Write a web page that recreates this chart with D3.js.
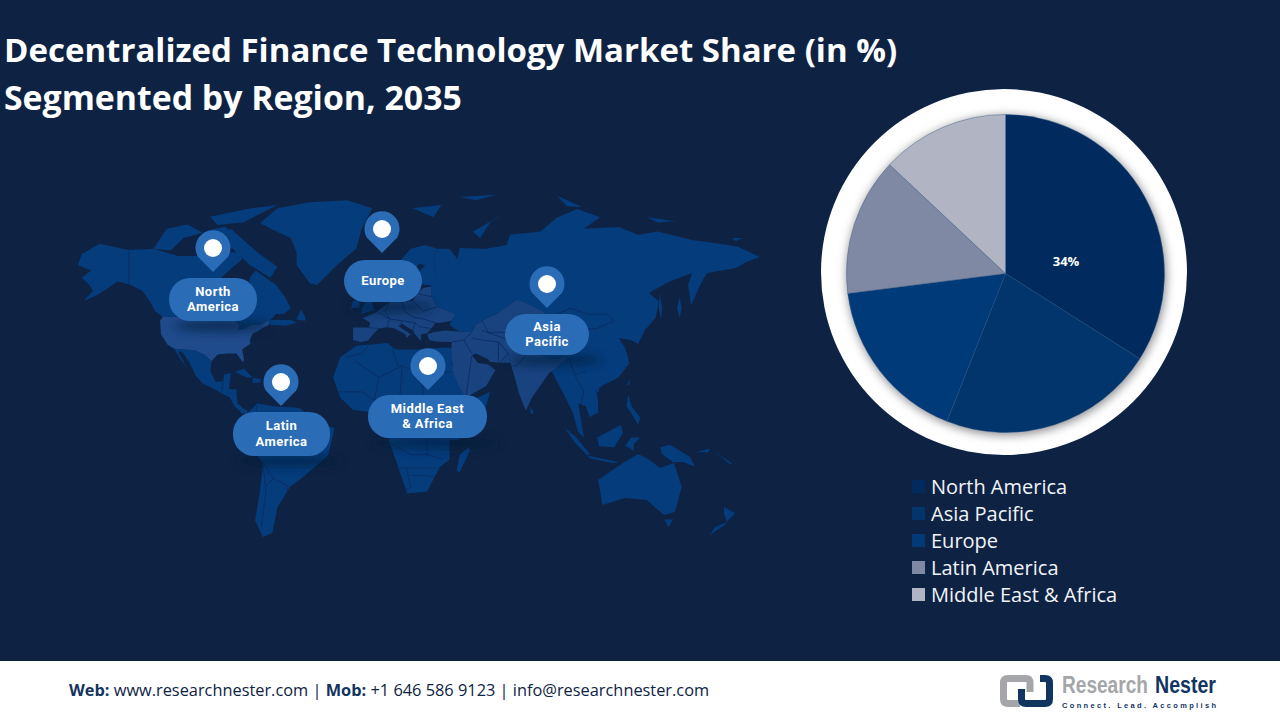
<!DOCTYPE html>
<html><head><meta charset="utf-8">
<script src="https://cdn.jsdelivr.net/npm/d3@7"></script>
<style>html,body{margin:0;padding:0;background:#0e2344;overflow:hidden}svg{display:block}text{font-family:"Open Sans",sans-serif}</style>
</head><body><svg id="c" width="1280" height="720"></svg>
<script>
const regions=["North America","Asia Pacific","Europe","Latin America","Middle East & Africa"];
const shares=[34,22,17,14,13];
const shareLabels=["34%",null,null,null,null];
const sliceColors=["#012a5e","#02356b","#003a78","#8089a3","#b1b5c3"];
const titleLines=["Decentralized Finance Technology Market Share (in %)","Segmented by Region, 2035"];

// geography, as [lon, lat] outlines
const landDark=[
 [[-168,65.5],[-166,68.5],[-156.5,71.3],[-141,69.6],[-128,70],[-115,68],[-108,68],[-95,68],[-94,72],[-90,69],[-82,69],[-81,67],[-87,64.5],[-94,61],[-94,58.7],[-88,56.5],[-82,55],[-82,52],[-79,51.5],[-79,55],[-77,57],[-76,62],[-72,64],[-65,62],[-58,60],[-52,56],[-48,52],[-53,50],[-58,50],[-62,47.5],[-48,47.5],[-44,46],[-52,44.5],[-63,45],[-63,47.3],[-69,45],[-75,45],[-79,43],[-83,42],[-82.5,45],[-84.5,46.5],[-89,48],[-95,49],[-123,49],[-127,51],[-130,54.5],[-134,58],[-140,60],[-147,61],[-152,59],[-158,56.5],[-165,54.5],[-160,58],[-162,60],[-166,62],[-161,64]],
 [[-117,32.5],[-106,31.7],[-101,29.5],[-97.2,26],[-97.8,22],[-95,18.5],[-91,18.7],[-90.5,21],[-87,21.5],[-88,16],[-84,15.8],[-83.5,11],[-80,9],[-77.5,8.5],[-78,7.5],[-81,7.5],[-85,10],[-87.5,13],[-92,14.5],[-96,16],[-102,18],[-105.5,20.5],[-109,25.5],[-113,31],[-115,31],[-110,23],[-114,27.5]],
 [[-77,8],[-71,11],[-60,10],[-42,9.4],[-30,5],[-22,3],[-18,2.4],[-22.5,-8.5],[-39.6,-21],[-48.5,-27.7],[-57,-39.6],[-60.6,-53],[-67,-55],[-72.4,-46.5],[-69,-29.7],[-67,-11.7],[-75,-5.5],[-80,2]],
 [[-69,76.4],[-57,80],[-35,81.5],[-12,82],[0,80],[-5,75],[-7.5,70],[-16.5,65.5],[-30,60],[-35,60.5],[-44,65.5],[-44,69],[-48,72.7],[-60,74.7]],
 [[-87,75],[-71,69],[-57,65],[-62,62],[-76,65.5],[-86,70],[-94,72.7]],
 [[-128,70],[-121,75],[-110,76],[-102,74],[-112,72.7],[-119,69.5]],
 [[-98,77.9],[-75,80],[-57,80.8],[-70,78.5],[-80,76.6],[-94,75.9]],
 [[-100,74.5],[-90,75.5],[-84,73.5],[-92,72.5]],
 [[-44,47.7],[-38,47],[-38,49],[-41,51.5]],
 [[-85,22],[-80,23],[-74,20],[-78,20]],
 [[-74,19.8],[-69,19.5],[-68.5,18.3],[-74,18]],
 [[-7.4,34],[7,35.4],[11,32],[22,32],[33,33],[39,33],[38,25],[43,15],[48,12],[57,15],[52,3],[41,-2],[37,-2],[37,-10],[32,-14.7],[26,-30.6],[16.4,-32],[10,-7.7],[7,0],[7,9],[-1,8],[-9,8.7],[-15,13],[-19,20],[-15,28],[-10,32]],
 [[5,58],[7,58],[11,59],[13,55.5],[16.5,56.5],[18.5,60],[17,62],[22,65.8],[25,65.5],[21,63],[22,60.5],[25,60],[30,60],[31,62.5],[29,66],[31,70],[25,71],[18,70],[12,66],[6,62.5]],
 [[28,60],[31,62.5],[29,66],[31,70],[37,70],[41,67],[40,64.5],[42,70.2],[55,70],[65,71],[66.7,73.5],[82,74.3],[91,77.8],[101.6,79.8],[113.5,77.8],[105,75],[122,75.4],[131,73.5],[140,74.3],[156,72.2],[167,71.5],[179,70.5],[190,67.7],[183,66.3],[178,64.7],[163.5,63.3],[160,60],[155.6,53],[154,60],[156,63.3],[145,60.8],[136,57.3],[140.5,54.2],[139,48.6],[134,42],[131,35],[127.5,37],[122,38],[125,33],[127,25],[122,20],[115,17.4],[111.5,15.5],[112.5,12],[112.5,7.7],[108,6.3],[106,10],[102,11],[105,-1],[102,1],[99,8],[96,12],[92.5,16.5],[88,22],[97,28],[88,27],[80,30],[78,35],[75,38],[80,42],[87,49],[83,51],[77,53],[70,55],[60,50],[53,47],[50,45],[48,41],[41.5,41.5],[37,45],[38,47],[40,50],[31,52.5],[28,56]],
 [[141,56.8],[142,52],[141.5,48],[140.5,52]],
 [[150,56],[151,52],[150,48.5],[149,52]],
 [[-5,50],[1,51.5],[0,53.5],[-2,56],[-3,58.5],[-6,57],[-3,54],[-5,52]],
 [[-10,52],[-6,52.2],[-6,55],[-9,54.5]],
 [[19,80],[33,80.8],[29,77.8]],
 [[48.5,74.3],[65,79],[57,76.5],[52,72.7]],
 [[42,82.8],[60,83.3],[50,82]],
 [[91,83],[104,80.3],[96,80.5]],
 [[135,77.8],[148,76.8],[140,76.5]],
 [[176,72.7],[181,72.7],[178,71.9]],
 [[95,2.4],[101,-1],[108,-7.7],[107,-8.5],[100,-3]],
 [[107,-8.5],[122,-11],[119,-11.7],[108,-9.5]],
 [[112,-1],[123,3.5],[124,0.7],[120,-5],[113,-4.6]],
 [[125,-4.6],[127.7,-1],[132,-1],[129,-3.7],[129,-6.5],[126.5,-5]],
 [[126.5,14],[128,10],[132,6],[131,3.5],[127.7,7.7],[125.6,10]],
 [[141,-5],[145.6,-4],[155,-9],[157.5,-14],[151.5,-11],[147,-11],[142,-7.7]],
 [[127.7,20],[125.6,17],[126.8,17.5]],
 [[111.5,16.2],[113.5,15.6],[112,14.6]],
 [[76.5,10],[78.5,7.7],[77,7.3]],
 [[46.5,-4.9],[47,-6.5],[42,-17.6],[40.5,-17],[42,-8]],
 [[112.5,-23],[124,-11.7],[131,-7.7],[136,-10],[141,-15],[147.5,-11.7],[151,-27.7],[148,-42],[143,-43.7],[140,-41],[135,-36],[125,-35],[114.5,-38.6],[113.5,-29.7]],
 [[143,-46],[147,-46],[145,-50]],
 [[172,-39.6],[177.5,-42.7],[173.5,-47.3],[172,-43]],
 [[173.5,-47.3],[172,-49],[165,-54],[167.5,-50]],
 [[158,-7],[165,-5.5],[164,-7]],[[168,-7],[176,-12],[175,-12.5]]
];
const landLight=[
 [[-123,49],[-95,49],[-89,48],[-84.5,46.5],[-82.5,45],[-83,42],[-79,43],[-75,45],[-69,45],[-63,47.3],[-63,45],[-68,43],[-71,41.5],[-74,40.5],[-76,37],[-75.5,35.2],[-81,32],[-80,27],[-80.5,25.2],[-82.5,28],[-84,30],[-89,30],[-94,29.5],[-97.2,26],[-101,29.5],[-106,31.7],[-117,32.5],[-120.5,34.5],[-124,40],[-124.5,47]]
];
const landMid=[
 [[-9,37],[-9,43.5],[-1.5,43.5],[-1,46],[-4.5,48.5],[1.5,50.5],[4,52],[8,54],[8.5,57],[10.5,57.5],[10,54.5],[14,54],[19,54.5],[21,57],[24,59],[28,59.5],[28,56],[31,52.5],[40,50],[38,47],[33,46],[30,46],[28,43],[26,40.5],[23,40],[23,36.5],[20,40],[19,42],[14,45.5],[12.5,44],[18,40],[16,38],[15.5,40],[10.5,43],[7,43.7],[3,43],[0,39.5],[-2,36.8],[-5.5,36]],
 [[26,40],[29,41],[35,42],[41.5,41.5],[48,41],[50,45],[53,47],[60,50],[70,55],[77,53],[83,51],[87,49],[80,42],[75,38],[78,35],[80,30],[88,27],[97,28],[88,22],[87,22],[77.5,13],[74.5,8.5],[71.6,13.5],[69,20],[67,25],[57,25.5],[56,27],[50,30],[48,29],[51,25],[56,24.5],[59.5,22.5],[55,17],[45,13],[43,15],[39,21],[38,28],[38,36],[30,36.2],[27,37]]
];
const borderLines=[
 [[-141,69.6],[-141,60]],
 [[-92,14.5],[-91,18.7]],
 [[-71,11],[-72,5],[-66,0],[-68,-4],[-74,-8]],
 [[-67,-11],[-60,-22],[-50,-27],[-50,-36]],
 [[-67,-12],[-65,-30],[-68,-50]],
 [[-60,-22],[-65,-27]],[[-52,8],[-52,0],[-40,2]],[[-74,-8],[-67,-12]],
 [[-12,28],[-5,30],[-2,34]],[[-8,26],[3,20],[14,24],[24,21],[24,32]],
 [[9,35],[10,30],[12,24]],[[24,21],[38,22]],[[14,24],[13,14],[8,8]],[[3,20],[1,12],[1,8]],[[-17,15],[-5,15],[1,12]],
 [[13,14],[24,10],[36,10],[50,11]],[[24,21],[24,10],[22,3],[26,-3],[26,-8],[34,-10]],[[10,-4],[18,-8],[26,-8]],
 [[10,-15],[22,-15],[30,-15]],[[16,-15],[18,-28],[14,-30]],[[28,3],[36,3],[38,-3]],[[22,3],[28,3]],[[18,-20],[26,-20],[33,-22]],
 [[-2,43.5],[3,43]],[[2,51],[8,48],[7,44]],[[8,54],[6,51],[8,48],[14,47],[12.5,44]],[[14,54],[15,51],[19,49],[24,48],[30,46]],
 [[19,54.5],[24,51],[31,52.5]],[[14,47],[20,46],[22,44],[28,43]],[[24,59],[21,57],[28,56]],[[20,46],[19,42]],[[12,66],[18,63],[13,55.5]],
 [[38,36],[44,37],[48,30]],[[44,37],[48,41]],[[48,29],[45,13]],[[61,26],[61,36],[53,37],[48,38]],[[53,42],[66,37],[75,38]],[[61,36],[66,30],[62,25.5]],
 [[53,47],[56,41],[66,41],[70,42],[80,42]],[[71,36],[75,30],[70,24],[68,24]],[[97,28],[100,21],[106,22]],[[100,21],[105,15],[103,10]],
 [[87,49],[98,52],[107,50],[117,50],[120,47],[112,43],[100,42],[92,45],[87,49]],[[141,-5],[141,-11]]
];

// layout
const W=1280,H=720;
const lonPts=[-168,-124,-80,-17,20,51,77.5,113,153,190], lonPx=[78,161,244,336,415,478,532,599,686,760];
const latPts=[84,71,60,49,25,8,0,-11,-35,-55], latPx=[192,245,285,317,363,412,435,462,498,537];
const pins=[{t:["North","America"],x0:169,x1:257,y0:278,y1:321,tx:213,ty:272},
 {t:["Europe"],x0:344,x1:422,y0:260,y1:302,tx:382,ty:253},
 {t:["Asia","Pacific"],x0:505,x1:589,y0:314,y1:355,tx:547,ty:308},
 {t:["Latin","America"],x0:233,x1:330,y0:412,y1:456,tx:281,ty:406},
 {t:["Middle East","& Africa"],x0:368,x1:487,y0:395,y1:438,tx:428,ty:390}];

const svg=d3.select("#c");
const defs=svg.append("defs");
defs.append("filter").attr("id","blur").attr("x","-30%").attr("y","-100%").attr("width","160%").attr("height","300%").append("feGaussianBlur").attr("stdDeviation",5);
defs.append("filter").attr("id","blur2").attr("x","-10%").attr("y","-10%").attr("width","120%").attr("height","120%").append("feGaussianBlur").attr("stdDeviation",5);
defs.append("clipPath").attr("id","ringClip").append("circle").attr("cx",1004).attr("cy",272).attr("r",183);

svg.append("rect").attr("width",W).attr("height",H).attr("fill","#0e2344");

// map
const x=d3.scaleLinear().domain(lonPts).range(lonPx), y=d3.scaleLinear().domain(latPts).range(latPx);
const line=d3.line().x(d=>x(d[0])).y(d=>y(d[1]));
const closed=d=>line(d)+"Z";
const map=svg.append("g");
defs.append("clipPath").attr("id","landClip").selectAll("path").data(landDark.concat(landMid,landLight)).join("path").attr("d",closed);
map.selectAll("path.d").data(landDark).join("path").attr("class","d").attr("d",closed).attr("fill","#053c7c");
map.selectAll("path.m").data(landMid).join("path").attr("class","m").attr("d",closed).attr("fill","#18437f");
map.selectAll("path.l").data(landLight).join("path").attr("class","l").attr("d",closed).attr("fill","#1f4b8c");
map.append("g").attr("clip-path","url(#landClip)").selectAll("path").data(borderLines).join("path").attr("d",line).attr("fill","none").attr("stroke","#0c2b5d").attr("stroke-width",.8);

// pins
const pg=svg.append("g");
pins.forEach(p=>{
 const cx=(p.x0+p.x1)/2,g=pg.append("g");
 g.append("ellipse").attr("cx",cx+8).attr("cy",p.y1+5).attr("rx",(p.x1-p.x0)/2+4).attr("ry",6).attr("fill","#061a38").attr("opacity",.6).attr("filter","url(#blur)");
 const r=17.5,hy=p.ty-24;
 g.append("path").attr("d",`M${p.tx},${p.ty}L${p.tx-r*.86},${hy+r*.5}A${r},${r} 0 1 1 ${p.tx+r*.86},${hy+r*.5}Z`).attr("fill","#2a6cb5");
 g.append("circle").attr("cx",p.tx).attr("cy",hy).attr("r",9).attr("fill","#fff");
 g.append("rect").attr("x",p.x0).attr("y",p.y0).attr("width",p.x1-p.x0).attr("height",p.y1-p.y0).attr("rx",21).attr("fill","#2a6cb5");
 const my=(p.y0+p.y1)/2,off=p.t.length==2?-8.5:-1;
 p.t.forEach((s,i)=>g.append("text").text(s).attr("x",cx).attr("y",my+off+i*15.3+4.7).attr("text-anchor","middle").attr("fill","#fff").style("font-family","Roboto").attr("font-size",13).attr("letter-spacing",.45).attr("font-weight",700));
});

// pie
svg.append("circle").attr("cx",1004).attr("cy",272).attr("r",183).attr("fill","#fff");
svg.append("g").attr("clip-path","url(#ringClip)").append("circle").attr("cx",1006.5).attr("cy",275.5).attr("r",160).attr("fill","#8e8f93").attr("filter","url(#blur2)");
const pieG=svg.append("g").attr("transform","translate(1005.5,273.5)");
const pie=d3.pie().sort(null).value(d=>d)(shares);
const arc=d3.arc().innerRadius(0).outerRadius(159);
pieG.selectAll("path").data(pie).join("path").attr("d",arc).attr("fill",(d,i)=>sliceColors[i]).attr("stroke","#2c5688").attr("stroke-width",.4);
pieG.selectAll("text").data(pie).join("text").text((d,i)=>shareLabels[i]).attr("x",60.5).attr("y",-8).attr("text-anchor","middle").attr("fill","#fff").attr("font-size",13).attr("font-weight",700);

// legend
const lg=svg.append("g").selectAll("g").data(regions).join("g").attr("transform",(d,i)=>`translate(0,${i*27})`);
lg.append("rect").attr("x",912).attr("y",480).attr("width",13).attr("height",13).attr("fill",(d,i)=>sliceColors[i]);
lg.append("text").text(d=>d).attr("x",931).attr("y",494).attr("fill","#f2f4f8").attr("font-size",20);

// title
svg.selectAll("text.t").data(titleLines).join("text").attr("class","t").text(d=>d).attr("x",4).attr("y",(d,i)=>62+i*48).attr("fill","#fff").attr("font-size",(d,i)=>i?33.8:33).attr("font-weight",700);

// footer
svg.append("rect").attr("y",661).attr("width",W).attr("height",59).attr("fill","#fff");
const ft=svg.append("text").attr("x",69).attr("y",696).attr("font-size",16.35).attr("fill","#0e2344");
[["Web:",1],[" www.researchnester.com | ",0],["Mob:",1],[" +1 646 586 9123 | info@researchnester.com",0]].forEach(s=>ft.append("tspan").text(s[0]).attr("font-weight",s[1]?700:400).attr("fill",s[1]?"#12355f":"#0e2344"));

// logo
const logo=svg.append("g").attr("fill","none").attr("stroke-width",7);
logo.append("path").attr("d","M1020,703.5H1008Q1003.5,703.5 1003.5,699V683Q1003.5,678.5 1008,678.5H1026Q1030,678.5 1030,683V692").attr("stroke","#a4a6a9");
logo.append("path").attr("d","M1040,678.5H1045Q1049.5,678.5 1049.5,683V699Q1049.5,703.5 1045,703.5H1026Q1021.5,703.5 1021.5,699V689").attr("stroke","#12355f");
const lf="'Liberation Sans'";
function squeezed(txt,px,py,target,color){
 const t=svg.append("text").text(txt).style("font-family",lf).attr("font-size",23).attr("fill",color).attr("font-weight",700);
 const k=target/t.node().getComputedTextLength();
 t.attr("transform",`translate(${px},${py}) scale(${k},1)`);
}
squeezed("Research",1062,693,86,"#a4a6a9");
squeezed("Nester",1155,693,61,"#12355f");
svg.append("text").text("Connect. Lead. Accomplish").attr("x",1062).attr("y",707.5).style("font-family",lf).attr("font-size",7.5).attr("textLength",154).attr("fill","#12355f").attr("font-weight",700);
</script></body></html>
